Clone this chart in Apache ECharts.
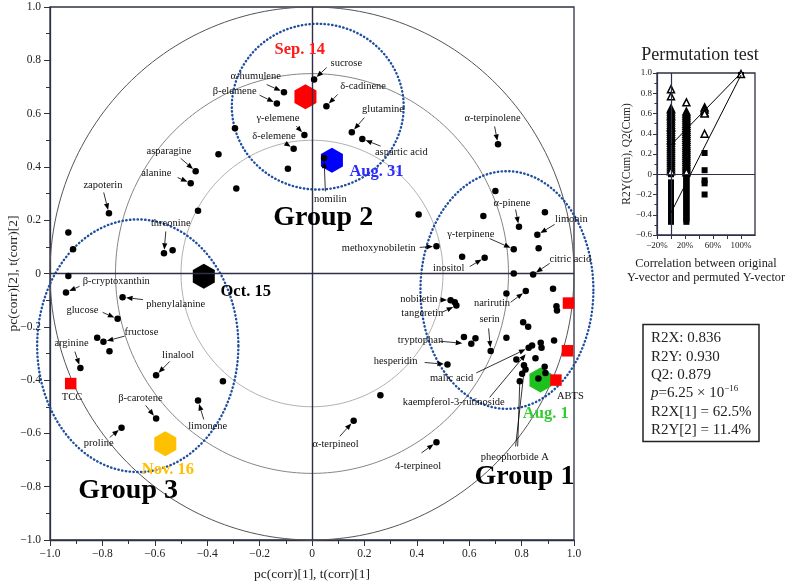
<!DOCTYPE html>
<html><head><meta charset="utf-8">
<script src="https://cdn.jsdelivr.net/npm/echarts@6/dist/echarts.min.js"></script>
<style>html,body{margin:0;padding:0;background:#fff}#c{width:785px;height:584px}</style>
</head><body><div id="c"></div>
<script>
// ---------------- DATA ----------------
// variable loadings (black dots) [pc(corr)[1], pc(corr)[2]]
const dots = [
 [-0.107,0.68],[-0.134,0.638],[-0.029,0.52],[-0.07,0.468],[-0.294,0.545],[-0.357,0.447],[-0.092,0.393],
 [-0.444,0.384],[-0.463,0.339],[-0.289,0.319],[-0.775,0.226],[-0.435,0.235],[-0.93,0.154],[-0.912,0.091],
 [-0.565,0.076],[-0.532,0.087],[-0.93,-0.009],[0.008,0.728],[0.055,0.628],[0.152,0.53],[0.192,0.505],
 [0.046,0.433],[0.71,0.485],[0.70,0.31],[0.407,0.221],[0.79,0.175],[0.654,0.216],[0.889,0.23],[0.86,0.145],
 [0.475,0.102],[0.77,0.091],[0.865,0.095],[0.573,0.063],[0.659,0.059],[0.77,0.0],[0.844,-0.004],
 [0.742,-0.075],[0.816,-0.066],[0.92,-0.057],
 [-0.939,-0.071],[-0.723,-0.089],[-0.742,-0.17],[-0.82,-0.241],[-0.796,-0.256],[-0.773,-0.292],
 [-0.884,-0.355],[-0.595,-0.382],[-0.34,-0.404],[-0.435,-0.477],[-0.595,-0.544],[-0.727,-0.579],
 [0.529,-0.1],[0.545,-0.108],[0.551,-0.12],[0.933,-0.123],[0.935,-0.139],[0.806,-0.183],[0.825,-0.2],
 [0.58,-0.238],[0.608,-0.264],[0.624,-0.243],[0.742,-0.241],[0.682,-0.291],[0.924,-0.251],
 [0.827,-0.279],[0.84,-0.27],[0.873,-0.26],[0.876,-0.279],[0.853,-0.318],[0.78,-0.323],
 [0.517,-0.341],[0.809,-0.344],[0.815,-0.36],[0.802,-0.376],[0.793,-0.404],[0.888,-0.35],[0.891,-0.373],
 [0.864,-0.394],[0.261,-0.457],[0.159,-0.553],[0.475,-0.633]
];
// sampling dates (scores)
const dateNames = ['Sep. 14','Aug. 31','Oct. 15','Nov. 16','Aug. 1'];
const datePoints = [[-0.025,0.663],[0.076,0.425],[-0.413,-0.01],[-0.56,-0.639],[0.872,-0.4]];
const dateLabelPos = [[-0.047,0.841],[0.246,0.38],[-0.253,-0.068],[-0.55,-0.735],[0.892,-0.525]];
// antioxidant variables (red squares)
const squarePoints = [[0.979,-0.111],[0.975,-0.29],[0.931,-0.4],[-0.921,-0.413]];
const tagNames = ['TCC','ABTS'];
const tagPos = [[-0.916,-0.463],[0.986,-0.46]];
// correlation circles
const circleRadii = [1, 0.75, 0.5];
// groups: [cx, cy, rx, ry]
const groupNames = ['Group 1','Group 2','Group 3'];
const groupEllipses = [[0.744,-0.062,0.33,0.446],[0.022,0.626,0.328,0.311],[-0.665,-0.271,0.384,0.474]];
const groupLabelPos = [[0.811,-0.761],[0.043,0.21],[-0.702,-0.817]];
// annotated variables
const annNames = ['α-humulene','β-elemene','γ-elemene','δ-elemene','sucrose','δ-cadinene','glutamine','aspartic acid','nomilin',
 'asparagine','alanine','zapoterin','threonine','α-terpinolene','α-pinene','limonin','γ-terpinene','methoxynobiletin','inositol',
 'citric acid','β-cryptoxanthin','phenylalanine','glucose','fructose','arginine','linalool','β-carotene','limonene','proline',
 'nobiletin','tangeretin','narirutin','serin','tryptophan','hesperidin','malic acid','kaempferol-3-rutinoside','pheophorbide A',
 'α-terpineol','4-terpineol'];
const annText = [[-0.215,0.74],[-0.295,0.682],[-0.13,0.583],[-0.145,0.515],[0.131,0.788],[0.195,0.701],[0.271,0.615],[0.341,0.455],[0.07,0.28],
 [-0.546,0.459],[-0.594,0.376],[-0.798,0.333],[-0.539,0.188],[0.689,0.582],[0.763,0.265],[0.99,0.205],[0.606,0.149],[0.255,0.093],[0.522,0.018],
 [0.986,0.053],[-0.747,-0.029],[-0.52,-0.114],[-0.876,-0.138],[-0.651,-0.219],[-0.918,-0.26],[-0.511,-0.305],[-0.655,-0.469],[-0.398,-0.575],[-0.814,-0.638],
 [0.408,-0.098],[0.421,-0.151],[0.687,-0.111],[0.678,-0.173],[0.414,-0.251],[0.319,-0.329],[0.533,-0.394],[0.541,-0.484],[0.774,-0.688],
 [0.09,-0.639],[0.405,-0.723]];
const annFrom = [[-0.173,0.709],[-0.2,0.669],[-0.06,0.553],[-0.104,0.49],[0.056,0.773],[0.098,0.672],[0.2,0.585],[0.262,0.478],[0.051,0.308],
 [-0.501,0.432],[-0.513,0.36],[-0.795,0.304],[-0.558,0.158],[0.697,0.552],[0.777,0.24],[0.926,0.184],[0.678,0.131],[0.411,0.098],[0.602,0.026],
 [0.907,0.038],[-0.887,-0.048],[-0.645,-0.098],[-0.799,-0.146],[-0.715,-0.235],[-0.905,-0.293],[-0.543,-0.33],[-0.635,-0.495],[-0.413,-0.548],[-0.772,-0.615],
 [0.487,-0.099],[0.495,-0.146],[0.758,-0.108],[0.674,-0.206],[0.487,-0.254],[0.43,-0.334],[0.627,-0.373],[0.678,-0.465],[0.777,-0.649],
 [0.106,-0.611],[0.418,-0.673]];
const annTo = [[-0.107,0.68],[-0.134,0.638],[-0.029,0.52],[-0.07,0.468],[0.008,0.728],[0.055,0.628],[0.152,0.53],[0.192,0.505],[0.046,0.433],
 [-0.444,0.384],[-0.463,0.339],[-0.775,0.226],[-0.565,0.076],[0.71,0.485],[0.79,0.175],[0.86,0.145],[0.77,0.091],[0.475,0.102],[0.659,0.059],
 [0.844,-0.004],[-0.939,-0.071],[-0.723,-0.089],[-0.742,-0.17],[-0.796,-0.256],[-0.884,-0.355],[-0.595,-0.382],[-0.595,-0.544],[-0.435,-0.477],[-0.727,-0.579],
 [0.529,-0.1],[0.551,-0.12],[0.816,-0.066],[0.682,-0.291],[0.587,-0.263],[0.517,-0.341],[0.827,-0.279],[0.824,-0.293],[0.811,-0.353],
 [0.159,-0.553],[0.475,-0.633]];
const noHead = ['pheophorbide A'];
const extraLeaderFrom = [[0.785,-0.649]];
const extraLeaderTo = [[0.793,-0.404]];

// permutation test (inset)
const permCorr = [0, 22, 48, 100];
const r2yPerm = [
 [0.84,0.77,0.65,0.64,0.62,0.60,0.58,0.57,0.55,0.53,0.51,0.49,0.47,0.46,0.44,0.42,0.40,0.38,0.36,0.34,0.33,0.31,0.29,0.27,0.25,0.23,0.21,0.19,0.17,0.15,0.13,0.11,0.09,0.07,0.05,0.03],
 [0.71,0.62,0.60,0.58,0.56,0.54,0.52,0.50,0.48,0.46,0.44,0.42,0.40,0.38,0.36,0.34,0.32,0.30,0.28,0.26,0.24,0.22,0.20,0.18,0.16,0.14,0.12,0.10,0.08,0.06,0.04,0.02],
 [0.66,0.64,0.61,0.60,0.40],
 [0.99]
];
const q2Perm = [
 [0.00,-0.08,-0.10,-0.12,-0.14,-0.16,-0.18,-0.20,-0.22,-0.24,-0.26,-0.28,-0.30,-0.32,-0.34,-0.36,-0.38,-0.40,-0.42,-0.44,-0.46,-0.47],
 [0.01,-0.01,-0.03,-0.05,-0.07,-0.09,-0.11,-0.13,-0.15,-0.17,-0.19,-0.21,-0.23,-0.25,-0.27,-0.29,-0.31,-0.33,-0.35,-0.37,-0.39,-0.41,-0.43,-0.45,-0.47],
 [0.21,0.04,-0.06,-0.09,-0.20],
 [0.98]
];
const r2yLine = [[0,0.29],[100,1.0]];
const q2Line = [[0,-0.38],[100,0.98]];
// model statistics
const statLabels = ['R2X','R2Y','Q2'];
const statValues = ['0.836','0.930','0.879'];
const pMantissa = '6.25', pExponent = '\u221216';
const compLabels = ['R2X[1]','R2Y[2]'];
const compValues = ['62.5%','11.4%'];

// ---------------- CHART ----------------
const SERIF = '"Liberation Serif","Times New Roman",serif';
const AX = '#2d3047';
const dateColors = ['#ff0000','#0000ff','#000000','#ffc000','#1ec01e'];
const dateTextColors = ['#ff1a1a','#2a2aff','#000000','#ffc000','#33cc33'];
const circleColors = ['#555555','#858585','#b0b0b0'];
const HEX = 'path://M50,0 L93.3,25 L93.3,75 L50,100 L6.7,75 L6.7,25 Z';

function fmtNum(v){ if (Math.abs(v) < 1e-9) return '0'; return (v < 0 ? '\u2212' : '') + Math.abs(v).toFixed(1); }
function ellipsePts(api, cx, cy, rx, ry){
  const pts = [];
  for (let k = 0; k <= 240; k++) { const a = k / 240 * 2 * Math.PI; pts.push(api.coord([cx + rx * Math.cos(a), cy + ry * Math.sin(a)])); }
  return pts;
}
function arrow(s, e, head, shorten){
  const dx = e[0]-s[0], dy = e[1]-s[1], L = Math.sqrt(dx*dx+dy*dy) || 1;
  const ux = dx/L, uy = dy/L;
  const tip = [e[0]-ux*shorten, e[1]-uy*shorten];
  const out = [];
  if (head) {
    const hl = 6.5, hw = 2.6;
    const base = [tip[0]-ux*hl, tip[1]-uy*hl];
    out.push({type:'line', shape:{x1:s[0],y1:s[1],x2:base[0],y2:base[1]}, style:{stroke:'#000',lineWidth:0.8}});
    out.push({type:'polygon', shape:{points:[tip,[base[0]-uy*hw,base[1]+ux*hw],[base[0]+uy*hw,base[1]-ux*hw]]}, style:{fill:'#000'}});
  } else {
    out.push({type:'line', shape:{x1:s[0],y1:s[1],x2:tip[0],y2:tip[1]}, style:{stroke:'#000',lineWidth:0.8}});
  }
  return out;
}

const mainAxisCommon = {
  type:'value', min:-1, max:1, interval:0.2,
  axisLine:{show:true, onZero:false, lineStyle:{color:AX, width:1.3}},
  axisTick:{show:true, inside:false, length:6, lineStyle:{color:AX, width:1}},
  minorTick:{show:true, splitNumber:2, length:4, lineStyle:{color:AX, width:1}},
  splitLine:{show:false}, minorSplitLine:{show:false},
  axisLabel:{formatter:fmtNum, fontFamily:SERIF, fontSize:11.5, color:'#222'},
  nameLocation:'middle', nameMoveOverlap:false, nameTextStyle:{fontFamily:SERIF, fontSize:13.5, color:'#222'}
};

const option = {
  animation:false,
  backgroundColor:'#fff',
  grid:[
    {left:50, right:211, top:7, bottom:44, containLabel:false, outerBoundsMode:'none', show:true, borderColor:AX, borderWidth:1.3, backgroundColor:'transparent'},
    {left:657, right:30, top:73, bottom:349, containLabel:false, outerBoundsMode:'none', show:true, borderColor:AX, borderWidth:1.3, backgroundColor:'transparent'}
  ],
  xAxis:[
    Object.assign({}, mainAxisCommon, {gridIndex:0, name:'pc(corr)[1], t(corr)[1]', nameGap:27,
      axisLabel:Object.assign({}, mainAxisCommon.axisLabel, {margin:8})}),
    {gridIndex:1, type:'value', min:-20, max:120, interval:20,
      axisLine:{show:true, onZero:false, lineStyle:{color:AX, width:1.2}},
      axisTick:{show:true, length:4, lineStyle:{color:AX}},
      minorTick:{show:false}, splitLine:{show:false},
      axisLabel:{fontFamily:SERIF, fontSize:9, color:'#222', margin:6, showMaxLabel:false,
        formatter:function(v){ const r = Math.round(v); return ((r+20)%40===0 && r<=100) ? ((r<0?'\u2212':'')+Math.abs(r)+'%') : ''; }},
      name:'Correlation between original\nY-vector and permuted Y-vector', nameLocation:'middle', nameGap:22, nameMoveOverlap:false,
      nameTextStyle:{fontFamily:SERIF, fontSize:12.3, color:'#222', lineHeight:14}}
  ],
  yAxis:[
    Object.assign({}, mainAxisCommon, {gridIndex:0, name:'pc(corr)[2], t(corr)[2]', nameGap:30,
      axisLabel:Object.assign({}, mainAxisCommon.axisLabel, {margin:9})}),
    {gridIndex:1, type:'value', min:-0.6, max:1.0, interval:0.2,
      axisLine:{show:true, onZero:false, lineStyle:{color:AX, width:1.2}},
      axisTick:{show:true, length:4, lineStyle:{color:AX}},
      minorTick:{show:true, splitNumber:2, length:2.5, lineStyle:{color:AX}},
      splitLine:{show:false}, minorSplitLine:{show:false},
      axisLabel:{formatter:fmtNum, fontFamily:SERIF, fontSize:9, color:'#222', margin:5},
      name:'R2Y(Cum), Q2(Cum)', nameLocation:'middle', nameGap:24, nameMoveOverlap:false,
      nameTextStyle:{fontFamily:SERIF, fontSize:11.5, color:'#222'}}
  ],
  graphic:[
    {type:'text', x:700, y:55, style:{text:'Permutation test', font:'18px '+SERIF, fill:'#222', align:'center', verticalAlign:'middle'}},
    {type:'rect', shape:{x:643, y:324.5, width:116, height:117}, style:{fill:'#fff', stroke:'#222', lineWidth:1.5}},
    {type:'text', x:651, y:329, style:{
      text: statLabels.map((l,i)=>'{n|'+l+': '+statValues[i]+'}').join('\n') + '\n{i|p}{n|='+pMantissa+' \u00d7 10}{s|'+pExponent+'}\n' +
            compLabels.map((l,i)=>'{n|'+l+' = '+compValues[i]+'}').join('\n'),
      font:'15px '+SERIF, fill:'#222', lineHeight:18.4,
      rich:{
        n:{fontFamily:SERIF, fontSize:15, fill:'#222', lineHeight:18.4},
        i:{fontFamily:SERIF, fontSize:15, fontStyle:'italic', fill:'#222', lineHeight:18.4},
        s:{fontFamily:SERIF, fontSize:9, fill:'#222', lineHeight:18.4, verticalAlign:'top'}
      }}}
  ],
  series:[
    // zero lines of the main plot
    {type:'scatter', xAxisIndex:0, yAxisIndex:0, data:[], z:1, silent:true,
      markLine:{silent:true, symbol:['none','none'], label:{show:false}, lineStyle:{color:AX, width:1.4, type:'solid', opacity:1},
        data:[{xAxis:0},{yAxis:0}]}},
    // correlation circles
    {type:'custom', xAxisIndex:0, yAxisIndex:0, z:2, silent:true, clip:false,
      data: circleRadii.map(r=>[r]),
      renderItem:function(params, api){
        const r = api.value(0);
        return {type:'polyline', shape:{points:ellipsePts(api,0,0,r,r)}, style:{fill:null, stroke:circleColors[params.dataIndex], lineWidth:1}};
      }},
    // group ellipses
    {type:'custom', xAxisIndex:0, yAxisIndex:0, z:3, silent:true, clip:false,
      data: groupEllipses,
      renderItem:function(params, api){
        return {type:'polyline', shape:{points:ellipsePts(api, api.value(0), api.value(1), api.value(2), api.value(3))},
          style:{fill:null, stroke:'#1f4e9e', lineWidth:2.4, lineDash:[0.4,3.4], lineCap:'round'}};
      }},
    // sampling dates (hexagons)
    {type:'scatter', xAxisIndex:0, yAxisIndex:0, z:4, symbol:HEX, symbolSize:[22,25],
      data: datePoints.map((p,i)=>({value:p, itemStyle:{color:dateColors[i], opacity:1}}))},
    // variable dots
    {type:'scatter', xAxisIndex:0, yAxisIndex:0, z:5, symbol:'circle', symbolSize:6.5,
      itemStyle:{color:'#000', opacity:1}, data: dots},
    // antioxidant assays
    {type:'scatter', xAxisIndex:0, yAxisIndex:0, z:5, symbol:'rect', symbolSize:11.5,
      itemStyle:{color:'#ff0000', opacity:1}, data: squarePoints},
    // annotation labels with arrows
    {type:'custom', xAxisIndex:0, yAxisIndex:0, z:6, silent:true, clip:false,
      data: annNames.map((n,i)=>[annText[i][0],annText[i][1],annFrom[i][0],annFrom[i][1],annTo[i][0],annTo[i][1]]),
      renderItem:function(params, api){
        const i = params.dataIndex;
        const t = api.coord([api.value(0), api.value(1)]);
        const s = api.coord([api.value(2), api.value(3)]);
        const e = api.coord([api.value(4), api.value(5)]);
        const head = noHead.indexOf(annNames[i]) < 0;
        const children = arrow(s, e, head, head ? 3.5 : 0);
        children.push({type:'text', x:t[0], y:t[1], style:{text:annNames[i], font:'10.5px '+SERIF, fill:'#111', align:'center', verticalAlign:'middle'}});
        return {type:'group', children:children};
      }},
    // extra leader lines
    {type:'custom', xAxisIndex:0, yAxisIndex:0, z:6, silent:true, clip:false,
      data: extraLeaderFrom.map((f,i)=>[f[0],f[1],extraLeaderTo[i][0],extraLeaderTo[i][1]]),
      renderItem:function(params, api){
        const s = api.coord([api.value(0), api.value(1)]);
        const e = api.coord([api.value(2), api.value(3)]);
        return {type:'group', children:arrow(s, e, false, 0)};
      }},
    // plain tags (TCC, ABTS)
    {type:'custom', xAxisIndex:0, yAxisIndex:0, z:6, silent:true, clip:false,
      data: tagPos,
      renderItem:function(params, api){
        const t = api.coord([api.value(0), api.value(1)]);
        return {type:'text', x:t[0], y:t[1], style:{text:tagNames[params.dataIndex], font:'10.5px '+SERIF, fill:'#111', align:'center', verticalAlign:'middle'}};
      }},
    // date labels
    {type:'custom', xAxisIndex:0, yAxisIndex:0, z:7, silent:true, clip:false,
      data: dateLabelPos,
      renderItem:function(params, api){
        const t = api.coord([api.value(0), api.value(1)]);
        return {type:'text', x:t[0], y:t[1], style:{text:dateNames[params.dataIndex], font:'bold 16.5px '+SERIF, fill:dateTextColors[params.dataIndex], align:'center', verticalAlign:'middle'}};
      }},
    // group labels
    {type:'custom', xAxisIndex:0, yAxisIndex:0, z:7, silent:true, clip:false,
      data: groupLabelPos,
      renderItem:function(params, api){
        const t = api.coord([api.value(0), api.value(1)]);
        return {type:'text', x:t[0], y:t[1], style:{text:groupNames[params.dataIndex], font:'bold 28px '+SERIF, fill:'#000', align:'center', verticalAlign:'middle'}};
      }},
    // ---- inset: permutation test ----
    {type:'scatter', xAxisIndex:1, yAxisIndex:1, data:[], z:1, silent:true,
      markLine:{silent:true, symbol:['none','none'], label:{show:false}, lineStyle:{color:AX, width:1.2, type:'solid', opacity:1},
        data:[{xAxis:0},{yAxis:0}]}},
    {type:'scatter', xAxisIndex:1, yAxisIndex:1, z:3, symbol:'rect', symbolSize:6,
      itemStyle:{color:'#000', opacity:1},
      data: q2Perm.flatMap((col,i)=>col.map(v=>[permCorr[i], v]))},
    {type:'scatter', xAxisIndex:1, yAxisIndex:1, z:4, symbol:'triangle', symbolSize:7,
      itemStyle:{color:'#fff', borderColor:'#000', borderWidth:1.5, opacity:1},
      data: r2yPerm.flatMap((col,i)=>col.map(v=>[permCorr[i], v]))},
    {type:'line', xAxisIndex:1, yAxisIndex:1, z:5, symbol:'none', lineStyle:{color:'#000', width:1}, data:r2yLine},
    {type:'line', xAxisIndex:1, yAxisIndex:1, z:5, symbol:'none', lineStyle:{color:'#000', width:1}, data:q2Line}
  ]
};
const chart = echarts.init(document.getElementById('c'));
chart.setOption(option);
</script>
</body></html>
